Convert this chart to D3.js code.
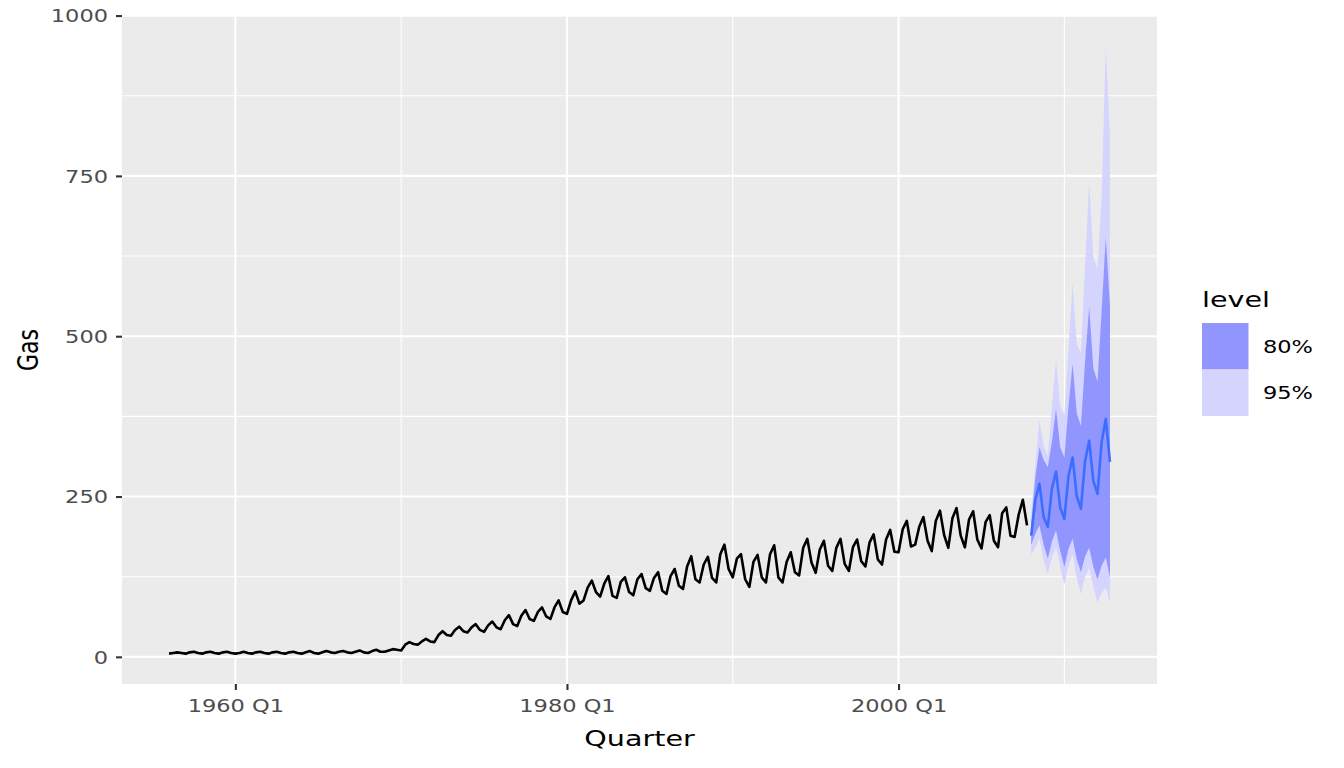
<!DOCTYPE html>
<html>
<head>
<meta charset="utf-8">
<script src="https://cdn.jsdelivr.net/npm/d3@7"></script>
<style>
  html, body { margin: 0; padding: 0; background: #ffffff; }
  svg { display: block; font-family: "DejaVu Sans", sans-serif; }
</style>
</head>
<body>
<svg id="chart" width="1344" height="768"></svg>
<script>
// ---------------- data ----------------
const startYear = 1956; // first quarter: 1956 Q1
// Quarterly Gas production, 1956 Q1 .. 2007 Q4
const gas = [
  5,6,7,6,  5,7,8,6,  5,7,8,6,  5,7,8,6,
  5,6,8,6,  5,7,8,6,  5,7,8,6,  5,7,8,6,
  5,7,9,6,  5,7,9,7,  6,8,9,7,  6,8,10,7,
  6,9,11,8, 8,10,12,11, 10,19,23,20, 19,24,28,24,
  23,34,40,34, 33,42,47,40, 38,46,51,42, 39,49,55,46,
  43,57,65,51, 48,64,73,59, 56,70,77,63, 59,77,88,70,
  67,88,102,83, 88,108,119,101, 94,114,126,95, 92,117,124,101,
  96,121,129,107, 103,123,132,103, 98,126,137,111, 106,141,157,121,
  116,144,156,123, 116,160,175,137, 124,153,160,121, 109,148,159,124,
  116,160,174,124, 116,148,163,132, 127,170,184,147, 131,167,181,142,
  134,170,184,145, 134,171,183,149, 141,178,191,152, 144,183,198,164,
  163,199,212,172, 175,203,218,181, 165,212,228,190, 170,216,232,189,
  171,214,227,183, 169,210,221,181, 171,224,233,189, 187,222,245,205
];
// Forecast 2008 Q1 .. 2012 Q4
const fcMean = [189,245,270,218, 203,262,289,233, 215,282,311,250, 231,305,337,274, 254,335,371,304];
const lo80   = [174,192,205,175, 153,180,197,165, 140,168,184,152, 132,156,170,140, 121,142,155,124];
const hi80   = [208,280,327,307, 296,335,387,327, 311,390,457,380, 360,460,546,450, 429,540,654,548];
const lo95   = [160,170,185,150, 129,155,171,140, 113,142,160,122,  98,125,139,108,  85,100,108, 85];
const hi95   = [222,300,369,330, 314,390,465,390, 378,480,583,488, 474,610,741,624, 604,720,952,811];
const levels = ["80%", "95%"];
const xTickLabels = ["1960 Q1", "1980 Q1", "2000 Q1"];
const yTicks = [0, 250, 500, 750, 1000];

// ---------------- helpers ----------------
function qDate(year, q) { return new Date(Date.UTC(year, (q - 1) * 3, 1)); }
function idxDate(startY, i) { return qDate(startY + Math.floor(i / 4), (i % 4) + 1); }
function parseQ(s) { const [y, q] = s.split(" Q"); return qDate(+y, +q); }

const hist = gas.map((v, i) => ({ date: idxDate(startYear, i), v }));
const fcStart = startYear + gas.length / 4;
const fc = fcMean.map((v, i) => ({
  date: idxDate(fcStart, i), v, lo80: lo80[i], hi80: hi80[i], lo95: lo95[i], hi95: hi95[i]
}));

// ---------------- layout ----------------
const SX_T = 1.25, SX_H = 1.3;   // horizontal text stretch (ticks / titles)
const TICK_FS = 18, TITLE_FS = 22;
const svg = d3.select("#chart");
const P = { left: 122, right: 1157, top: 16, bottom: 684 };

const xMin = hist[0].date, xMax = fc[fc.length - 1].date;
const xSpan = xMax - xMin;
const x = d3.scaleUtc()
  .domain([new Date(+xMin - 0.05 * xSpan), new Date(+xMax + 0.05 * xSpan)])
  .range([P.left, P.right]);

const allY = gas.concat(lo95, hi95, fcMean);
const yMinD = d3.min(allY), yMaxD = d3.max(allY), ySpan = yMaxD - yMinD;
const y = d3.scaleLinear()
  .domain([yMinD - 0.05 * ySpan, yMaxD + 0.05 * ySpan])
  .range([P.bottom, P.top]);

// panel background
svg.append("rect").attr("x", P.left).attr("y", P.top)
  .attr("width", P.right - P.left).attr("height", P.bottom - P.top)
  .attr("fill", "#EBEBEB");

const g = svg.append("g");
const xMajor = xTickLabels.map(parseQ);
const xMinor = [qDate(1970,1), qDate(1990,1), qDate(2010,1)];
const yMinor = [125, 375, 625, 875];
g.selectAll(".ymin").data(yMinor).join("line")
  .attr("x1", P.left).attr("x2", P.right)
  .attr("y1", d => y(d)).attr("y2", d => y(d))
  .attr("stroke", "#ffffff").attr("stroke-width", 1.1);
g.selectAll(".xmin").data(xMinor).join("line")
  .attr("y1", P.top).attr("y2", P.bottom)
  .attr("x1", d => x(d)).attr("x2", d => x(d))
  .attr("stroke", "#ffffff").attr("stroke-width", 1.1);
g.selectAll(".ymaj").data(yTicks).join("line")
  .attr("x1", P.left).attr("x2", P.right)
  .attr("y1", d => y(d)).attr("y2", d => y(d))
  .attr("stroke", "#ffffff").attr("stroke-width", 2.1);
g.selectAll(".xmaj").data(xMajor).join("line")
  .attr("y1", P.top).attr("y2", P.bottom)
  .attr("x1", d => x(d)).attr("x2", d => x(d))
  .attr("stroke", "#ffffff").attr("stroke-width", 2.1);

// bands
const col95 = "#D4D4FF", col80 = "#9196FF", lineBlue = "#3D6DFF";
const area95 = d3.area().x(d => x(d.date)).y0(d => y(d.lo95)).y1(d => y(d.hi95));
const area80 = d3.area().x(d => x(d.date)).y0(d => y(d.lo80)).y1(d => y(d.hi80));
svg.append("path").datum(fc).attr("d", area95).attr("fill", col95);
svg.append("path").datum(fc).attr("d", area80).attr("fill", col80);

// lines
const line = d3.line().x(d => x(d.date)).y(d => y(d.v));
svg.append("path").datum(hist).attr("d", line)
  .attr("fill", "none").attr("stroke", "#000000").attr("stroke-width", 2.6)
  .attr("stroke-linejoin", "round");
svg.append("path").datum(fc).attr("d", line)
  .attr("fill", "none").attr("stroke", lineBlue).attr("stroke-width", 2.6)
  .attr("stroke-linejoin", "round");

// axes
const xAxis = d3.axisBottom(x).tickValues(xMajor)
  .tickFormat((d, i) => xTickLabels[i]).tickSize(6);
const gx = svg.append("g").attr("transform", `translate(0,${P.bottom})`).call(xAxis);
const yAxis = d3.axisLeft(y).tickValues(yTicks).tickFormat(d3.format("d")).tickSize(6);
const gy = svg.append("g").attr("transform", `translate(${P.left},0)`).call(yAxis);
[gx, gy].forEach(a => {
  a.select(".domain").remove();
  a.selectAll(".tick line").attr("stroke", "#333333").attr("stroke-width", 2.1);
  a.selectAll(".tick text").attr("fill", "#4D4D4D")
    .style("font-size", TICK_FS + "px").style("font-family", "DejaVu Sans, sans-serif")
    .attr("transform", `scale(${SX_T},1)`);
});
gx.selectAll(".tick text").attr("y", 22).attr("dy", "0.35em");
gy.selectAll(".tick text").attr("x", -14 / SX_T).attr("dy", "0.35em");

// axis titles
svg.append("text").attr("transform", `translate(${(P.left + P.right) / 2},738) scale(${SX_H},1)`)
  .attr("text-anchor", "middle").attr("dy", "0.35em").attr("fill", "#000")
  .style("font-size", TITLE_FS + "px").text("Quarter");
svg.append("text").attr("transform", `translate(28,${(P.top + P.bottom) / 2}) scale(${SX_H},1) rotate(-90)`)
  .attr("text-anchor", "middle").attr("dy", "0.35em").attr("fill", "#000")
  .style("font-size", TITLE_FS + "px").text("Gas");

// legend
const lg = svg.append("g").attr("transform", "translate(1202,0)");
lg.append("text").attr("transform", `translate(0,307) scale(${SX_H},1)`)
  .style("font-size", TITLE_FS + "px").attr("fill", "#000").text("level");
const keyCols = [col80, col95];
levels.forEach((lv, i) => {
  lg.append("rect").attr("x", 0).attr("y", 323 + i * 46.5).attr("width", 46.5).attr("height", 46.5)
    .attr("fill", keyCols[i]);
  lg.append("text").attr("transform", `translate(61,${346.5 + i * 46.5}) scale(${SX_T},1)`)
    .attr("dy", "0.35em")
    .style("font-size", TICK_FS + "px").attr("fill", "#000").text(lv);
});
</script>
</body>
</html>
